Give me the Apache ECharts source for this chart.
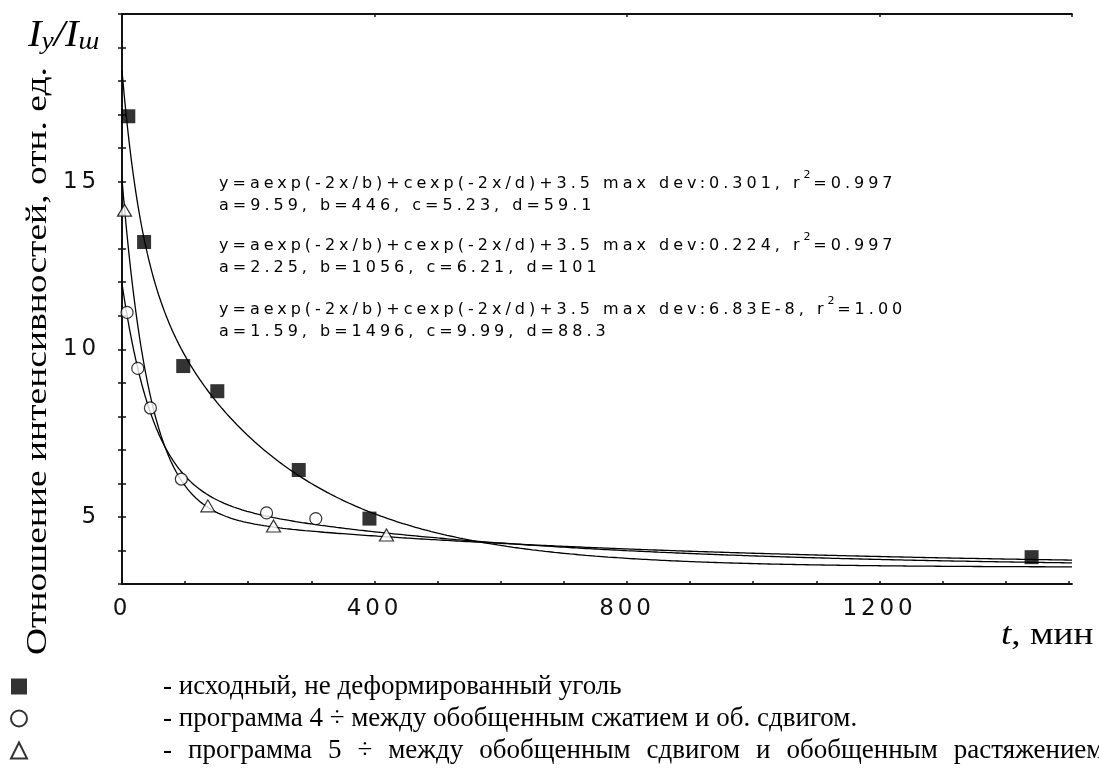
<!DOCTYPE html>
<html><head><meta charset="utf-8">
<script src="https://cdn.jsdelivr.net/npm/echarts@6/dist/echarts.min.js"></script>
<style>html,body{margin:0;padding:0;background:#fff}#c{width:1099px;height:776px}</style>
</head><body><div id="c"></div>
<script>
// ---- data ----
const SQ_X = [10, 35, 97, 151, 280, 392, 1441];
const SQ_Y = [16.95, 13.2, 9.5, 8.75, 6.4, 4.95, 3.8];
const CI_X = [8, 25, 45, 94, 229, 307];
const CI_Y = [11.1, 9.43, 8.25, 6.13, 5.12, 4.95];
const TR_X = [4, 136, 240, 419];
const TR_Y = [14.15, 5.33, 4.73, 4.46];
// fit parameters printed on the chart: y = a exp(-2x/b) + c exp(-2x/d) + 3.5
const FIT_A = [9.59, 2.25, 1.59];
const FIT_B = [446, 1056, 1496];
const FIT_C = [5.23, 6.21, 9.99];
const FIT_D = [59.1, 101, 88.3];
const FIT_OFF = 3.5;
const FIT_MAXDEV = ['0.301', '0.224', '6.83E-8'];
const FIT_R2 = ['0.997', '0.997', '1.00'];
const X_LABELS = [0, 400, 800, 1200];
const Y_LABELS = [5, 10, 15];
const LEGEND_NAMES = [
  '- исходный, не деформированный уголь',
  '- программа 4 ÷ между обобщенным сжатием и об. сдвигом.',
  '- программа 5 ÷ между обобщенным сдвигом и обобщенным растяжением.'
];

// letter spacing for the wide sans-serif texts of the original
(function () {
  const P = CanvasRenderingContext2D.prototype;
  const ft = P.fillText, mt = P.measureText;
  function sp(ctx) {
    const f = ctx.font || '';
    if (f.indexOf('DejaVu Sans') >= 0 && f.indexOf('Mono') < 0) {
      const m = f.match(/(\d+(?:\.\d+)?)px/);
      const s = m ? parseFloat(m[1]) : 0;
      ctx.letterSpacing = (s >= 20 ? s * 0.17 : s * 0.25) + 'px';
    } else {
      ctx.letterSpacing = '0px';
    }
  }
  P.fillText = function (t, x, y, w) { sp(this); return w === undefined ? ft.call(this, t, x, y) : ft.call(this, t, x, y, w); };
  P.measureText = function (t) { sp(this); return mt.call(this, t); };
})();

const XMIN = 0, XMAX = 1505, YMIN = 3, YMAX = 20;

function fitCurve(i) {
  const pts = [];
  for (let x = 0; x <= XMAX; x += (x < 200 ? 1 : 5)) {
    pts.push([x, FIT_A[i] * Math.exp(-2 * x / FIT_B[i]) + FIT_C[i] * Math.exp(-2 * x / FIT_D[i]) + FIT_OFF]);
  }
  return pts;
}
const zip = (a, b) => a.map((v, i) => [v, b[i]]);

const axisLineStyle = { color: '#111', width: 1.8 };
const tickFont = { fontFamily: 'DejaVu Sans', fontSize: 23, color: '#111' };
const annFont = 'DejaVu Sans';

const annTop = [184, 246, 310];
const annGraphics = [];
for (let i = 0; i < 3; i++) {
  annGraphics.push({
    type: 'text', x: 219, y: annTop[i] - 16, silent: true,
    style: {
      text: '{n|y=aexp(-2x/b)+cexp(-2x/d)+' + FIT_OFF + ' max dev:' + FIT_MAXDEV[i] + ', r}{s|2}{n|=' + FIT_R2[i] + '}',
      verticalAlign: 'top', align: 'left',
      rich: {
        n: { fontFamily: annFont, fontSize: 16, lineHeight: 32, color: '#000' },
        s: { fontFamily: annFont, fontSize: 11, lineHeight: 10, verticalAlign: 'top', color: '#000' }
      }
    }
  });
  annGraphics.push({
    type: 'text', x: 219, y: annTop[i] + 22, silent: true,
    style: {
      text: 'a=' + FIT_A[i] + ', b=' + FIT_B[i] + ', c=' + FIT_C[i] + ', d=' + FIT_D[i],
      fontFamily: annFont, fontSize: 16, fill: '#000', verticalAlign: 'middle', align: 'left'
    }
  });
}

// legend text: the last line of the original is justified (wider word spaces)
function legendText(name) {
  if (name === LEGEND_NAMES[2]) {
    return name.split(' ').map(w => '{t|' + w + '}').join('{sp| }');
  }
  return '{t|' + name + '}';
}

const chart = echarts.init(document.getElementById('c'), null, { renderer: 'canvas' });
chart.setOption({
  animation: false,
  backgroundColor: '#fff',
  grid: { left: 122, right: 27, top: 14, bottom: 192, containLabel: false },
  xAxis: [{
    type: 'value', min: XMIN, max: XMAX, interval: 100, position: 'bottom',
    axisLine: { show: true, lineStyle: axisLineStyle },
    axisTick: { show: true, inside: true, length: 3, lineStyle: { color: '#111', width: 1.5 } },
    axisLabel: Object.assign({ margin: 12, showMaxLabel: false,
      formatter: v => X_LABELS.indexOf(v) >= 0 ? String(v) : '' }, tickFont),
    splitLine: { show: false }
  }, {
    type: 'value', min: XMIN, max: XMAX, interval: 400, position: 'top',
    axisLine: { show: true, lineStyle: axisLineStyle },
    axisTick: { show: true, inside: true, length: 3, lineStyle: { color: '#111', width: 1.5 } },
    axisLabel: { show: false }, splitLine: { show: false }
  }],
  yAxis: [{
    type: 'value', min: YMIN, max: YMAX, interval: 1, position: 'left',
    axisLine: { show: true, lineStyle: axisLineStyle },
    axisTick: { show: true, inside: true, length: 4, lineStyle: { color: '#111', width: 1.5 } },
    axisLabel: Object.assign({ margin: 22,
      formatter: v => Y_LABELS.indexOf(v) >= 0 ? String(v) : '' }, tickFont),
    splitLine: { show: false }
  }, {
    type: 'value', min: YMIN, max: YMAX, interval: 1, position: 'right',
    axisLine: { show: true, lineStyle: axisLineStyle },
    axisTick: { show: true, inside: true, length: 4, lineStyle: { color: '#111', width: 1.5 } },
    axisLabel: { show: false }, splitLine: { show: false }
  }],
  legend: {
    orient: 'vertical', left: 10, top: 673, height: 200, padding: 0,
    itemWidth: 16, itemHeight: 16, itemGap: 5,
    selectedMode: false,
    data: LEGEND_NAMES,
    formatter: legendText,
    textStyle: {
      fontFamily: 'Liberation Serif', fontSize: 27, color: '#000', lineHeight: 16, padding: [0, 0, 0, 131],
      rich: {
        t: { fontFamily: 'Liberation Serif', fontSize: 27, color: '#000', lineHeight: 16 },
        sp: { fontFamily: 'Liberation Serif', fontSize: 27, color: '#000', lineHeight: 16, width: 16 }
      }
    }
  },
  series: [
    { type: 'line', data: fitCurve(0), showSymbol: false, symbol: 'none', silent: true, z: 2,
      lineStyle: { color: '#000', width: 1.3 } },
    { type: 'line', data: fitCurve(1), showSymbol: false, symbol: 'none', silent: true, z: 2,
      lineStyle: { color: '#000', width: 1.3 } },
    { type: 'line', data: fitCurve(2), showSymbol: false, symbol: 'none', silent: true, z: 2,
      lineStyle: { color: '#000', width: 1.3 } },
    { name: LEGEND_NAMES[0], type: 'scatter', data: zip(SQ_X, SQ_Y), symbol: 'rect', symbolSize: 14, z: 4,
      itemStyle: { color: '#000' } },
    { name: LEGEND_NAMES[1], type: 'scatter', data: zip(CI_X, CI_Y), symbol: 'circle', symbolSize: 12, z: 3,
      itemStyle: { color: '#fff', borderColor: '#000', borderWidth: 1.2 } },
    { name: LEGEND_NAMES[2], type: 'scatter', data: zip(TR_X, TR_Y), symbol: 'triangle', symbolSize: [14, 12], z: 3,
      itemStyle: { color: '#fff', borderColor: '#000', borderWidth: 1.2 } }
  ],
  graphic: annGraphics.concat([
    { type: 'text', x: 28, y: 55, silent: true, scaleX: 1.1,
      style: { text: '{i|I}{s|у}{i|/I}{s|ш}', verticalAlign: 'bottom', align: 'left',
        rich: {
          i: { fontFamily: 'Liberation Serif', fontStyle: 'italic', fontSize: 37, lineHeight: 37, color: '#000', verticalAlign: 'bottom' },
          s: { fontFamily: 'Liberation Serif', fontStyle: 'italic', fontSize: 25, lineHeight: 25, color: '#000', verticalAlign: 'bottom' }
        } } },
    { type: 'text', x: 38, y: 361, rotation: Math.PI / 2, scaleX: 1.25, silent: true,
      style: { text: 'Отношение интенсивностей, отн. ед.', fontFamily: 'Liberation Serif', fontSize: 30,
        fill: '#000', align: 'center', verticalAlign: 'middle' } },
    { type: 'text', x: 1001, y: 636, scaleX: 1.2, silent: true,
      style: { text: '{t|t}{r|, мин}', align: 'left', verticalAlign: 'middle',
        rich: {
          t: { fontFamily: 'Liberation Serif', fontStyle: 'italic', fontSize: 31, color: '#000' },
          r: { fontFamily: 'Liberation Serif', fontSize: 31, color: '#000' }
        } } }
  ])
});
</script></body></html>
